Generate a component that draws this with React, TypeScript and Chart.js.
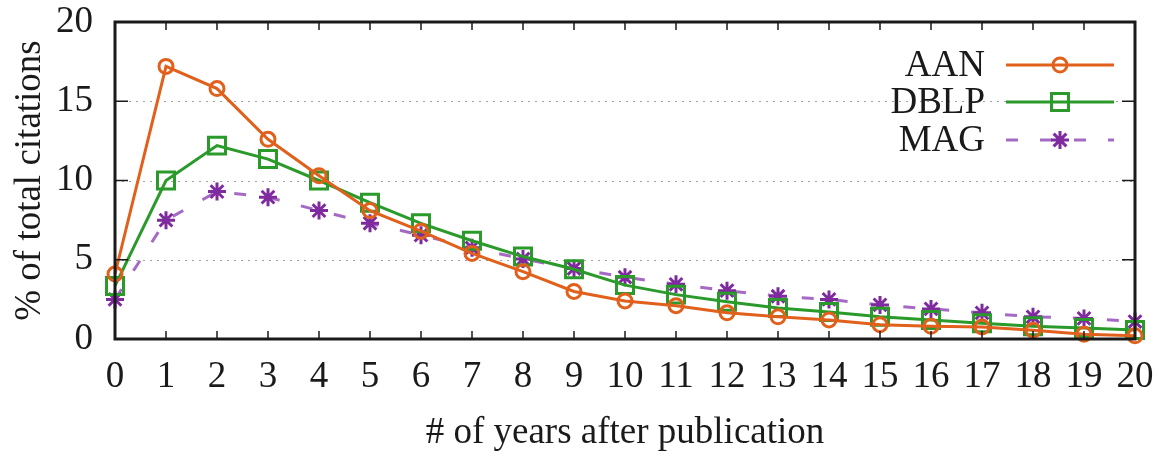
import React, { useEffect, useRef } from 'react';
import { Chart, registerables } from 'chart.js';

Chart.register(...registerables);

const years = ['0', '1', '2', '3', '4', '5', '6', '7', '8', '9', '10', '11', '12', '13', '14', '15', '16', '17', '18', '19', '20'];
const aan = [4.1, 17.2, 15.8, 12.6, 10.3, 8.1, 6.8, 5.4, 4.25, 3.0, 2.4, 2.1, 1.65, 1.4, 1.2, 0.9, 0.8, 0.75, 0.55, 0.3, 0.2];
const dblp = [3.35, 10.0, 12.2, 11.35, 10.0, 8.6, 7.3, 6.2, 5.2, 4.4, 3.4, 2.8, 2.35, 1.95, 1.7, 1.4, 1.2, 1.0, 0.8, 0.7, 0.57];
const mag = [2.5, 7.5, 9.3, 8.95, 8.1, 7.3, 6.55, 5.75, 5.05, 4.45, 3.9, 3.45, 3.05, 2.7, 2.5, 2.15, 1.9, 1.65, 1.4, 1.3, 1.1];
const yTickValues = [0, 5, 10, 15, 20];
const seriesNames = ['AAN', 'DBLP', 'MAG'];

const FONT = '"Liberation Serif", "DejaVu Serif", serif';
const FS = 37;
const TEXT = '#1a1a1a';

function drawPoint(ctx: CanvasRenderingContext2D, style: string, r: number, x: number, y: number) {
  ctx.beginPath();
  if (style === 'circle') {
    ctx.arc(x, y, r, 0, Math.PI * 2);
  } else if (style === 'rect') {
    const s = Math.SQRT1_2 * r;
    ctx.rect(x - s, y - s, 2 * s, 2 * s);
  } else if (style === 'star') {
    ctx.moveTo(x - r, y);
    ctx.lineTo(x + r, y);
    ctx.moveTo(x, y - r);
    ctx.lineTo(x, y + r);
    const d = r * Math.SQRT1_2;
    ctx.moveTo(x - d, y - d);
    ctx.lineTo(x + d, y + d);
    ctx.moveTo(x - d, y + d);
    ctx.lineTo(x + d, y - d);
  }
  ctx.stroke();
}

const framePlugin = {
  id: 'gnuFrame',
  beforeDatasetsDraw(chart: any) {
    const { ctx, chartArea: a, scales } = chart;
    ctx.save();
    ctx.strokeStyle = '#a0a0a0';
    ctx.lineWidth = 1.2;
    ctx.setLineDash([2, 5]);
    for (const v of yTickValues) {
      if (v === 0 || v === 20) continue;
      const y = Math.round(scales.y.getPixelForValue(v)) + 0.5;
      ctx.beginPath();
      ctx.moveTo(a.left, y);
      ctx.lineTo(a.right, y);
      ctx.stroke();
    }
    ctx.restore();
  },
  afterDatasetsDraw(chart: any) {
    const { ctx, chartArea: a, scales } = chart;
    ctx.save();
    ctx.strokeStyle = '#1a1a1a';
    ctx.setLineDash([]);
    ctx.lineWidth = 1.5;
    for (const v of yTickValues) {
      const y = scales.y.getPixelForValue(v);
      ctx.beginPath();
      ctx.moveTo(a.left, y);
      ctx.lineTo(a.left + 13, y);
      ctx.moveTo(a.right, y);
      ctx.lineTo(a.right - 13, y);
      ctx.stroke();
    }
    years.forEach((_, i) => {
      const x = scales.x.getPixelForValue(i);
      ctx.beginPath();
      ctx.moveTo(x, a.bottom);
      ctx.lineTo(x, a.bottom - 8);
      ctx.moveTo(x, a.top);
      ctx.lineTo(x, a.top + 8);
      ctx.stroke();
    });
    ctx.lineWidth = 3;
    ctx.strokeRect(a.left, a.top, a.right - a.left, a.bottom - a.top);
    ctx.restore();
  },
  afterDraw(chart: any) {
    const { ctx } = chart;
    const rows = [65, 102, 140];
    const textRight = 985;
    const lineL = 1006;
    const lineR = 1114;
    ctx.save();
    chart.data.datasets.forEach((ds: any, i: number) => {
      const y = rows[i];
      ctx.font = `${FS}px ${FONT}`;
      ctx.fillStyle = TEXT;
      ctx.textAlign = 'right';
      ctx.textBaseline = 'middle';
      ctx.fillText(ds.label, textRight, y + 1);
      ctx.strokeStyle = ds.borderColor;
      ctx.lineWidth = ds.borderWidth;
      ctx.setLineDash(ds.borderDash || []);
      ctx.beginPath();
      ctx.moveTo(lineL, y);
      ctx.lineTo(lineR, y);
      ctx.stroke();
      ctx.setLineDash([]);
      ctx.strokeStyle = ds.pointBorderColor;
      ctx.lineWidth = ds.pointBorderWidth;
      drawPoint(ctx, ds.pointStyle, ds.pointRadius, (lineL + lineR) / 2, y);
    });
    ctx.restore();
  },
};

export default function App() {
  const ref = useRef<HTMLCanvasElement | null>(null);

  useEffect(() => {
    document.body.style.margin = '0';
    const canvas = ref.current;
    if (!canvas) return;
    const chart = new Chart(canvas, {
      type: 'line',
      data: {
        labels: years,
        datasets: [
          {
            label: seriesNames[0],
            data: aan,
            borderColor: '#e0601c',
            borderWidth: 3,
            pointStyle: 'circle',
            pointRadius: 7,
            pointBorderWidth: 3,
            pointBorderColor: '#e0601c',
            pointBackgroundColor: 'rgba(0,0,0,0)',
            tension: 0,
            clip: false,
          } as any,
          {
            label: seriesNames[1],
            data: dblp,
            borderColor: '#2a9a2a',
            borderWidth: 3,
            pointStyle: 'rect',
            pointRadius: 12,
            pointBorderWidth: 3,
            pointBorderColor: '#2a9a2a',
            pointBackgroundColor: 'rgba(0,0,0,0)',
            tension: 0,
            clip: false,
          } as any,
          {
            label: seriesNames[2],
            data: mag,
            borderColor: '#a56ac4',
            borderWidth: 3,
            borderDash: [12, 22],
            pointStyle: 'star',
            pointRadius: 9,
            pointBorderWidth: 3,
            pointBorderColor: '#7f2a9e',
            pointBackgroundColor: 'rgba(0,0,0,0)',
            tension: 0,
            clip: false,
          } as any,
        ],
      },
      options: {
        animation: false,
        responsive: false,
        maintainAspectRatio: false,
        layout: { padding: { top: 22, right: 26, left: 0, bottom: 0 } },
        plugins: {
          legend: { display: false },
          tooltip: { enabled: false },
        },
        scales: {
          x: {
            type: 'category',
            offset: false,
            grid: { display: false, drawTicks: false },
            border: { display: false },
            ticks: {
              font: { family: FONT, size: FS },
              color: TEXT,
              padding: 16,
              maxRotation: 0,
              autoSkip: false,
            },
            title: {
              display: true,
              text: '# of years after publication',
              font: { family: FONT, size: FS, lineHeight: 1 },
              color: TEXT,
              padding: { top: 0, bottom: 0 },
            },
            afterFit: (s: any) => {
              s.height = 113;
              s.paddingLeft = 0;
              s.paddingRight = 0;
            },
          },
          y: {
            min: 0,
            max: 20,
            grid: { display: false, drawTicks: false },
            border: { display: false },
            ticks: {
              stepSize: 5,
              font: { family: FONT, size: FS },
              color: TEXT,
              padding: 22,
            },
            title: {
              display: true,
              text: '% of total citations',
              font: { family: FONT, size: FS, lineHeight: 1.2 },
              color: TEXT,
              padding: { top: 8, bottom: 0 },
            },
            afterFit: (s: any) => {
              s.width = 115;
              s.paddingTop = 0;
              s.paddingBottom = 0;
            },
          },
        },
      } as any,
      plugins: [framePlugin],
    });
    return () => chart.destroy();
  }, []);

  return (
    <div style={{ width: 1161, height: 452 }}>
      <canvas ref={ref} width={1161} height={452} style={{ width: 1161, height: 452, display: 'block' }} />
    </div>
  );
}
